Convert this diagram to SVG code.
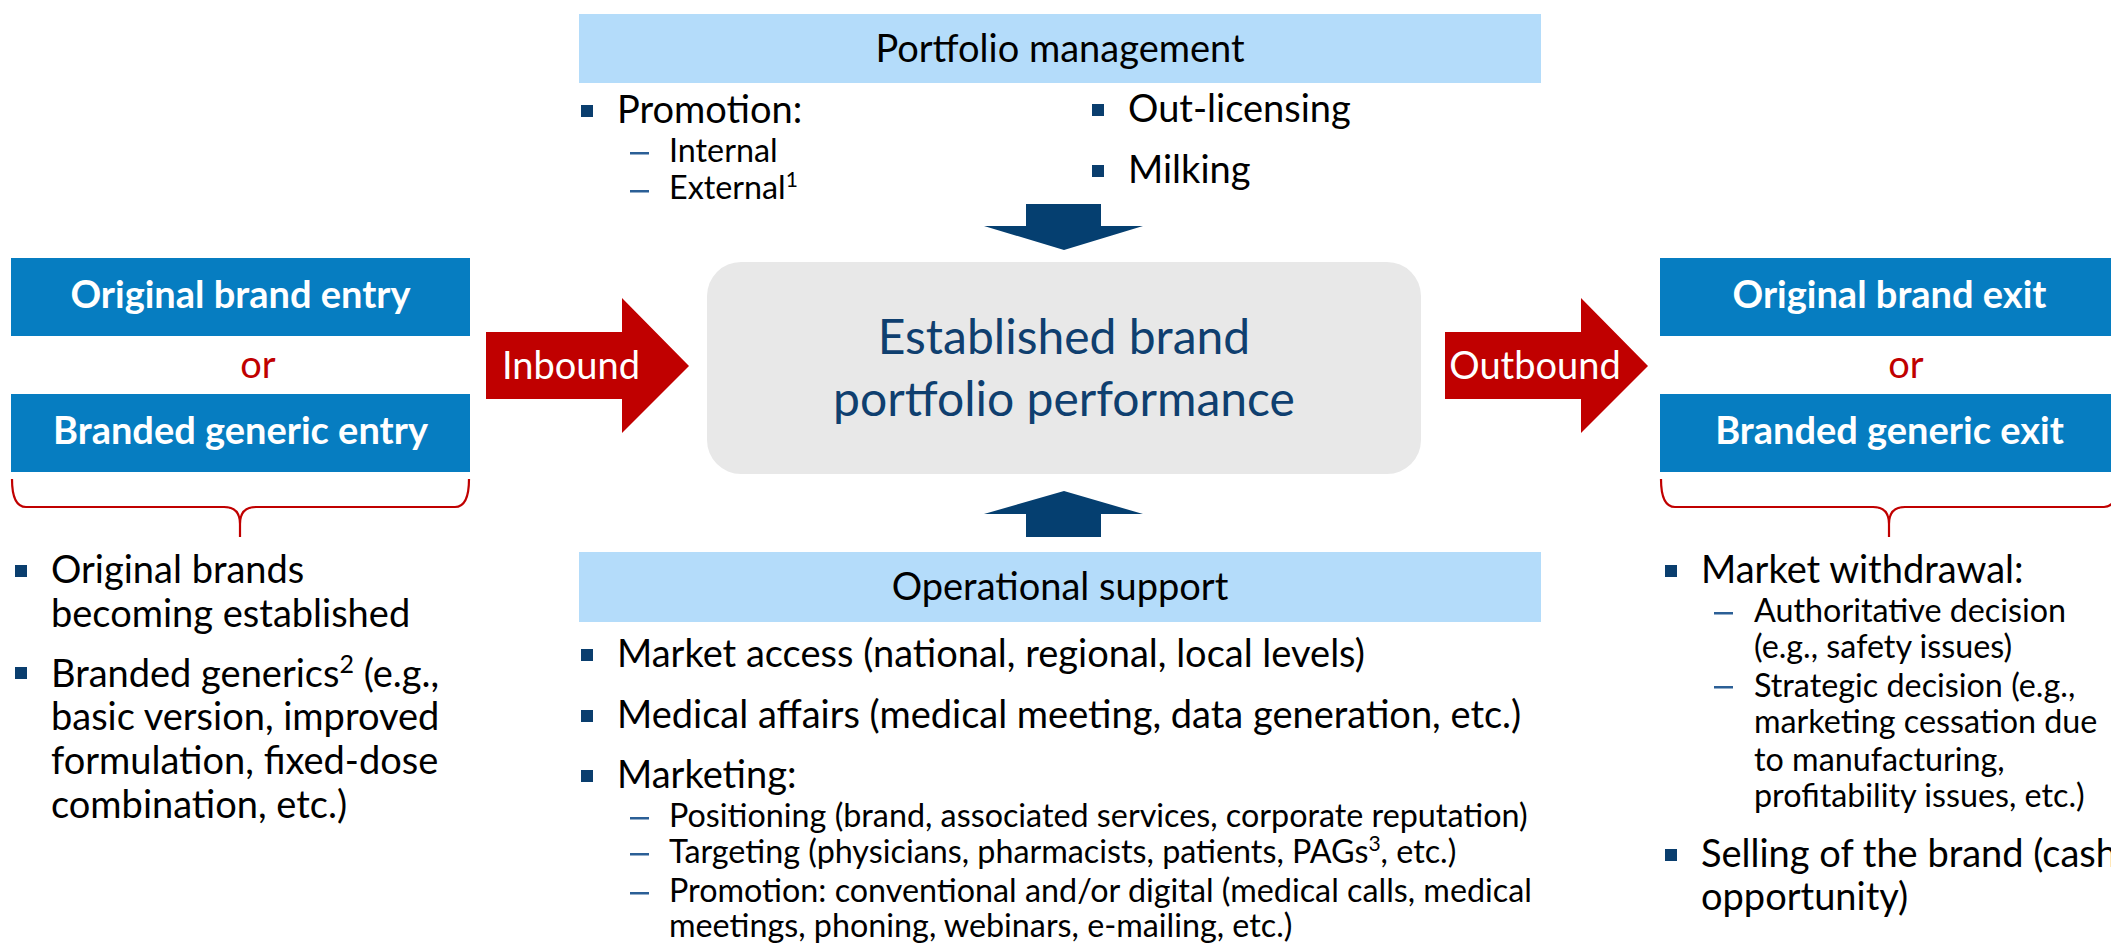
<svg xmlns="http://www.w3.org/2000/svg" width="2111" height="945" viewBox="0 0 2111 945">
<style>
.t{font-family:Lato,"Open Sans",sans-serif;fill:#000}
.m{font-size:38px}
.s{font-size:32.3px}
.h{font-size:38px;font-weight:700;fill:#fff;text-anchor:middle}
.c{text-anchor:middle}
.or{fill:#C00000;font-size:38px;text-anchor:middle}
.w{fill:#fff;font-size:38px;text-anchor:middle}
.box{fill:#067DC1}
.bar{fill:#B4DCFA}
.bul{fill:#0A3E6E}
.dash{fill:#2B5F96}
.red{fill:#C00000}
.navy{fill:#053F70}
.brace{fill:none;stroke:#C00000;stroke-width:2.2}
.ctr{fill:#0F3F6F;font-size:48px;text-anchor:middle}
</style>

<g id="portfolio-management">
<rect class="bar" x="579" y="14" width="962" height="69"/>
<text class="t m c" x="1060" y="62">Portfolio management</text>
<rect class="bul" x="581" y="105" width="12" height="12"/>
<text class="t m" x="617" y="123">Promotion:</text>
<rect class="dash" x="630" y="152" width="19" height="2.5"/>
<text class="t s" x="669" y="162">Internal</text>
<rect class="dash" x="630" y="190" width="19" height="2.5"/>
<text class="t s" x="669" y="199">External<tspan font-size="21" dy="-12">1</tspan></text>
<rect class="bul" x="1092" y="104" width="12" height="12"/>
<text class="t m" x="1128" y="122">Out-licensing</text>
<rect class="bul" x="1092" y="165" width="12" height="12"/>
<text class="t m" x="1128" y="183">Milking</text>
</g>

<g id="center">
<rect x="707" y="262" width="714" height="212" rx="34" fill="#E8E8E8"/>
<text class="t ctr" x="1064" y="354">Established brand</text>
<text class="t ctr" x="1064" y="416">portfolio performance</text>
</g>

<g id="operational-support">
<rect class="bar" x="579" y="552" width="962" height="70"/>
<text class="t m c" x="1060" y="600">Operational support</text>
<rect class="bul" x="581" y="649" width="12" height="12"/>
<text class="t m" x="617" y="667">Market access (national, regional, local levels)</text>
<rect class="bul" x="581" y="710" width="12" height="12"/>
<text class="t m" x="617" y="728">Medical affairs (medical meeting, data generation, etc.)</text>
<rect class="bul" x="581" y="770" width="12" height="12"/>
<text class="t m" x="617" y="788">Marketing:</text>
<rect class="dash" x="630" y="817" width="19" height="2.5"/>
<text class="t s" x="669" y="827">Positioning (brand, associated services, corporate reputation)</text>
<rect class="dash" x="630" y="853" width="19" height="2.5"/>
<text class="t s" x="669" y="863">Targeting (physicians, pharmacists, patients, PAGs<tspan font-size="21" dy="-12">3</tspan><tspan dy="12">, etc.)</tspan></text>
<rect class="dash" x="630" y="892" width="19" height="2.5"/>
<text class="t s" x="669" y="902">Promotion: conventional and/or digital (medical calls, medical</text>
<text class="t s" x="669" y="937">meetings, phoning, webinars, e-mailing, etc.)</text>
</g>

<g id="entry">
<rect class="box" x="11" y="258" width="459" height="78"/>
<text class="t h" x="240.5" y="308">Original brand entry</text>
<text class="t or" x="258" y="378">or</text>
<rect class="box" x="11" y="394" width="459" height="78"/>
<text class="t h" x="240.5" y="444">Branded generic entry</text>
<rect class="bul" x="15" y="565" width="12" height="12"/>
<text class="t m" x="51" y="583">Original brands</text>
<text class="t m" x="51" y="627">becoming established</text>
<rect class="bul" x="15" y="667" width="12" height="12"/>
<text class="t m" x="51" y="687">Branded generics<tspan font-size="25" dy="-14">2</tspan><tspan dy="14"> (e.g.,</tspan></text>
<text class="t m" x="51" y="730">basic version, improved</text>
<text class="t m" x="51" y="774">formulation, fixed-dose</text>
<text class="t m" x="51" y="818">combination, etc.)</text>
</g>

<g id="exit">
<rect class="box" x="1660" y="258" width="460" height="78"/>
<text class="t h" x="1889.5" y="308">Original brand exit</text>
<text class="t or" x="1906" y="378">or</text>
<rect class="box" x="1660" y="394" width="460" height="78"/>
<text class="t h" x="1889.5" y="444">Branded generic exit</text>
<rect class="bul" x="1665" y="565" width="12" height="12"/>
<text class="t m" x="1701" y="583">Market withdrawal:</text>
<rect class="dash" x="1714" y="612" width="19" height="2.5"/>
<text class="t s" x="1754" y="622">Authoritative decision</text>
<text class="t s" x="1754" y="658">(e.g., safety issues)</text>
<rect class="dash" x="1714" y="686" width="19" height="2.5"/>
<text class="t s" x="1754" y="697">Strategic decision (e.g.,</text>
<text class="t s" x="1754" y="733">marketing cessation due</text>
<text class="t s" x="1754" y="771">to manufacturing,</text>
<text class="t s" x="1754" y="807">profitability issues, etc.)</text>
<rect class="bul" x="1665" y="849" width="12" height="12"/>
<text class="t m" x="1701" y="867">Selling of the brand (cash</text>
<text class="t m" x="1701" y="910">opportunity)</text>
</g>

<g id="connectors">
<polygon class="red" points="486,332 622,332 622,298 689,366 622,433 622,399 486,399"/>
<text class="t w" x="571" y="379">Inbound</text>
<polygon class="red" points="1445,332 1581,332 1581,298 1648,366 1581,433 1581,399 1445,399"/>
<text class="t w" x="1535" y="379">Outbound</text>
<polygon class="navy" points="1026,204 1101,204 1101,226 1143,226 1064,250 984,226 1026,226"/>
<polygon class="navy" points="1064,491 1143,514 1101,514 1101,537 1026,537 1026,514 984,514"/>
<path class="brace" d="M12,479 Q12,507 26,507 L224,507 Q240,507 240,524 L240,537 M240,524 Q240,507 256,507 L455,507 Q469,507 469,479"/>
<path class="brace" d="M1661,479 Q1661,507 1675,507 L1873,507 Q1889,507 1889,524 L1889,537 M1889,524 Q1889,507 1905,507 L2104,507 Q2118,507 2118,479"/>
</g>
</svg>
